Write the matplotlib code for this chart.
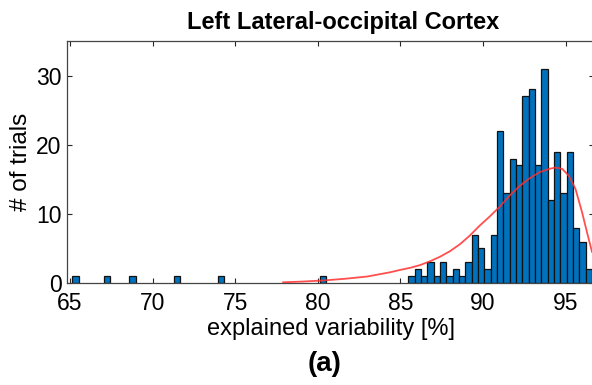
import numpy as np
import matplotlib
matplotlib.use("Agg")
import matplotlib.pyplot as plt

plt.rcParams['font.family'] = ['Liberation Sans', 'DejaVu Sans']

# Histogram: 82 bins between bin_lo and bin_hi
bin_lo = 65.145
bin_hi = 96.6
n_bins = 82
counts = [1, 0, 0, 0, 0, 1, 0, 0, 0, 1,
          0, 0, 0, 0, 0, 0, 1, 0, 0, 0,
          0, 0, 0, 1, 0, 0, 0, 0, 0, 0,
          0, 0, 0, 0, 0, 0, 0, 0, 0, 1,
          0, 0, 0, 0, 0, 0, 0, 0, 0, 0,
          0, 0, 0,
          1, 2, 1, 3, 1, 3, 1, 2, 1, 3,
          7, 5, 2, 7, 22, 13, 18, 17, 27, 28,
          17, 31, 12, 19, 13, 19, 8, 6, 2]

# Fitted distribution curve
fit_x = [77.9, 79.0, 80.3, 81.6, 83.0, 84.4, 85.0, 85.6, 86.2, 86.8, 87.4, 88.0,
         88.6, 89.2, 89.8, 90.4, 91.0, 91.6, 92.2, 92.8, 93.4, 94.0, 94.4,
         94.8, 95.2, 95.6, 96.0, 96.3, 96.6]
fit_y = [0.1, 0.2, 0.36, 0.6, 0.94, 1.56, 1.9, 2.2, 2.6, 3.15, 3.8, 4.6,
         5.6, 6.85, 8.3, 9.6, 11.0, 12.6, 14.0, 15.1, 16.0, 16.5, 16.7,
         16.5, 15.5, 13.6, 10.2, 7.3, 4.5]

edges = np.linspace(bin_lo, bin_hi, n_bins + 1)
centers = (edges[:-1] + edges[1:]) / 2
width = edges[1] - edges[0]

fig = plt.figure(figsize=(5.92, 3.85), dpi=100)
ax = fig.add_axes([67/592, (385-283)/385, 527/592, 242/385])

mask = np.array(counts) > 0
ax.bar(centers[mask], np.array(counts)[mask], width=width, color='#0072BD',
       edgecolor='#111111', linewidth=0.9, align='center', zorder=2)
ax.plot(fit_x, fit_y, color='#FF3030', linewidth=1.3, alpha=0.85, zorder=3,
        solid_joinstyle='round')

ax.set_xlim(64.82, 96.72)
ax.set_ylim(0, 35)
ax.set_xticks([65, 70, 75, 80, 85, 90, 95])
ax.set_yticks([0, 10, 20, 30])
ax.tick_params(direction='in', length=3.5, width=0.8, top=True, right=True,
               labelsize=16.5, colors='#262626')
ax.tick_params(axis='x', pad=6.5)
ax.tick_params(axis='y', pad=4)
for tl in ax.get_xticklabels() + ax.get_yticklabels():
    tl.set_color('black')
for s in ax.spines.values():
    s.set_color('#444444')
    s.set_linewidth(0.9)

ax.set_xlabel('explained variability [%]', fontsize=17, labelpad=2)
ax.set_ylabel('# of trials', fontsize=17.5, labelpad=3)
ax.set_title('Left Lateral-occipital Cortex', fontsize=17, fontweight='bold',
             pad=9, x=0.524)
fig.text(325/592, 1 - 364/385, '(a)', fontsize=20, fontweight='bold',
         ha='center', va='center')

fig.savefig('out.png', dpi=100)
